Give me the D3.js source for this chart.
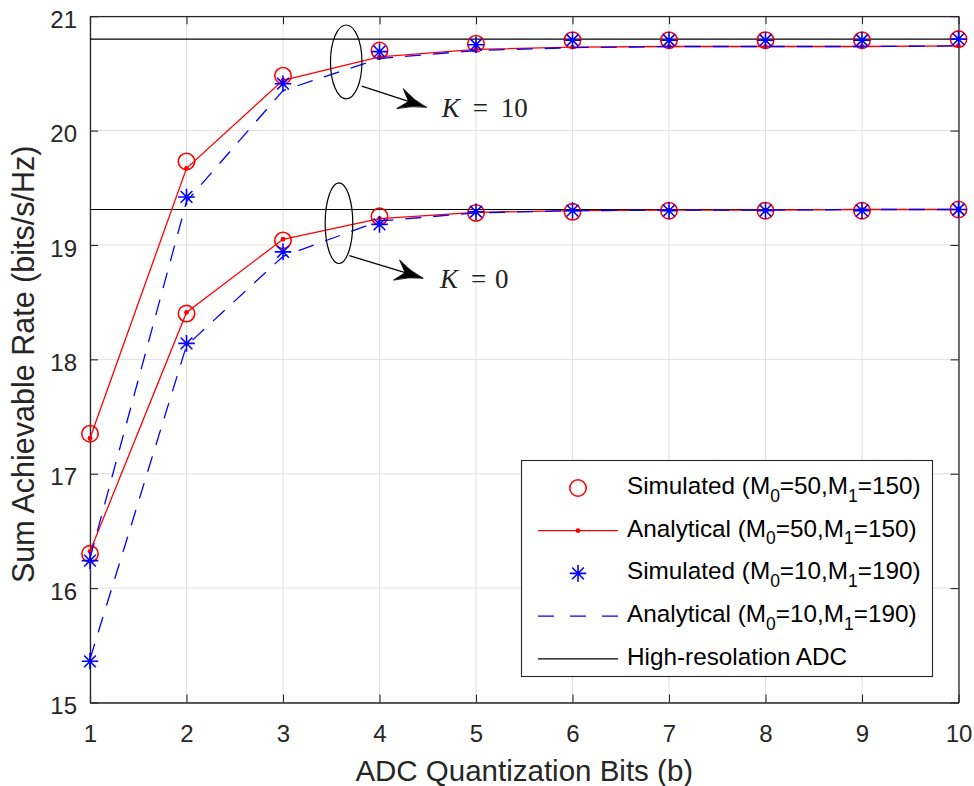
<!DOCTYPE html>
<html>
<head>
<meta charset="utf-8">
<script src="https://cdn.jsdelivr.net/npm/d3@7"></script>
<style>
  html, body { margin: 0; padding: 0; background: #fff; }
  svg { display: block; }
</style>
</head>
<body>
<svg id="chart" width="974" height="786"></svg>
<script>
// ---- data ----
const bits = [1, 2, 3, 4, 5, 6, 7, 8, 9, 10];
const xTicks = [1, 2, 3, 4, 5, 6, 7, 8, 9, 10];
const yTicks = [15, 16, 17, 18, 19, 20, 21];

// K = 10
const simA_K10 = [17.35, 19.73, 20.48, 20.70, 20.76, 20.79, 20.79, 20.79, 20.79, 20.80];
const anaA_K10 = [17.31, 19.67, 20.44, 20.645, 20.71, 20.73, 20.735, 20.735, 20.735, 20.74];
const simB_K10 = [16.24, 19.42, 20.41, 20.69, 20.75, 20.79, 20.79, 20.79, 20.79, 20.80];
const anaB_K10 = [16.26, 19.38, 20.35, 20.63, 20.70, 20.725, 20.735, 20.735, 20.735, 20.74];

// K = 0
const simA_K0 = [16.30, 18.40, 19.04, 19.25, 19.28, 19.29, 19.30, 19.30, 19.30, 19.31];
const anaA_K0 = [16.32, 18.41, 19.05, 19.23, 19.285, 19.30, 19.305, 19.305, 19.31, 19.31];
const simB_K0 = [15.36, 18.14, 18.94, 19.18, 19.29, 19.30, 19.30, 19.30, 19.30, 19.31];
const anaB_K0 = [15.38, 18.12, 18.90, 19.21, 19.28, 19.30, 19.305, 19.305, 19.31, 19.31];

// high-resolution ADC reference levels (K = 10, K = 0)
const highRes = [20.80, 19.31];

const legendLabels = [
  "Simulated (M_0=50,M_1=150)",
  "Analytical (M_0=50,M_1=150)",
  "Simulated (M_0=10,M_1=190)",
  "Analytical (M_0=10,M_1=190)",
  "High-resolation ADC"
];

// group annotations: ellipse (centre, half-axes in data units), arrow, label
const groupNames = ["10", "0"];
const ellipseCenters = [[3.655, 20.60], [3.58, 19.19]];
const ellipseRadii = [[0.163, 0.323], [0.143, 0.352]];
const arrowFrom = [[3.816, 20.389], [3.687, 18.907]];
const arrowTo = [[4.488, 20.203], [4.454, 18.709]];
const labelAt = [[4.645, 20.115], [4.627, 18.622]];

// ---- setup ----
const svg = d3.select("#chart");
const W = 974, H = 786;
const pLeft = 90, pRight = 958.5, pTop = 16.2, pBottom = 702.5;
const x = d3.scaleLinear().domain([1, 10]).range([pLeft, pRight]);
const y = d3.scaleLinear().domain([15, 21]).range([pBottom, pTop]);

const axisColor = "#262626";
const sansFont = "'Liberation Sans', Arial, Helvetica, sans-serif";
const serifFont = "'Liberation Serif', 'Times New Roman', serif";

svg.append("rect").attr("width", W).attr("height", H).attr("fill", "#fff");

// grid
const grid = svg.append("g").attr("stroke", "#e0e0e0").attr("stroke-width", 1);
grid.selectAll(".gx").data(xTicks).join("line")
  .attr("x1", d => x(d)).attr("x2", d => x(d))
  .attr("y1", pTop).attr("y2", pBottom);
grid.selectAll(".gy").data(yTicks).join("line")
  .attr("x1", pLeft).attr("x2", pRight)
  .attr("y1", d => y(d)).attr("y2", d => y(d));

// axes (ticks pointing inward on all four sides)
function styleAxis(g) {
  g.select(".domain").attr("stroke", axisColor).attr("stroke-width", 1.3);
  g.selectAll(".tick line").attr("stroke", axisColor).attr("stroke-width", 1.1);
  g.selectAll(".tick text").attr("fill", axisColor)
    .style("font-family", sansFont).style("font-size", "24px");
}

const xAxis = svg.append("g").attr("transform", `translate(0,${pBottom})`)
  .call(d3.axisBottom(x).tickValues(xTicks).tickSize(-8).tickSizeOuter(0).tickPadding(0).tickFormat(d3.format("d")))
  .call(styleAxis);
xAxis.selectAll(".tick text").attr("y", 39).attr("dy", null);

const yAxis = svg.append("g").attr("transform", `translate(${pLeft},0)`)
  .call(d3.axisLeft(y).tickValues(yTicks).tickSize(-8).tickSizeOuter(0).tickPadding(13).tickFormat(d3.format("d")))
  .call(styleAxis);
yAxis.selectAll(".tick text").attr("dy", "0.46em");

svg.append("g").attr("transform", `translate(0,${pTop})`)
  .call(d3.axisTop(x).tickValues(xTicks).tickSize(-8).tickSizeOuter(0).tickFormat(""))
  .call(styleAxis);
svg.append("g").attr("transform", `translate(${pRight},0)`)
  .call(d3.axisRight(y).tickValues(yTicks).tickSize(-8).tickSizeOuter(0).tickFormat(""))
  .call(styleAxis);

// axis titles
svg.append("text")
  .attr("x", x(5.5)).attr("y", 781)
  .attr("text-anchor", "middle")
  .attr("fill", axisColor)
  .style("font-family", sansFont).style("font-size", "29.5px")
  .text("ADC Quantization Bits (b)");

svg.append("text")
  .attr("transform", `translate(34,${(pTop + pBottom) / 2 + 5}) rotate(-90)`)
  .attr("text-anchor", "middle")
  .attr("fill", axisColor)
  .style("font-family", sansFont).style("font-size", "30.5px")
  .text("Sum Achievable Rate (bits/s/Hz)");

// ---- marks ----
const plot = svg.append("g");
const lineGen = d3.line().x((d, i) => x(bits[i])).y(d => y(d));

// high-resolution ADC limits
plot.selectAll(".hr").data(highRes).join("line")
  .attr("x1", x(1)).attr("x2", x(10))
  .attr("y1", d => y(d)).attr("y2", d => y(d))
  .attr("stroke", "#000").attr("stroke-width", 1.2);

function drawCircles(vals) {
  plot.append("g").selectAll("circle").data(vals).join("circle")
    .attr("cx", (d, i) => x(bits[i])).attr("cy", d => y(d))
    .attr("r", 8.2).attr("fill", "none").attr("stroke", "#ff0000").attr("stroke-width", 1.6);
}
function drawSolid(vals) {
  plot.append("path").datum(vals).attr("d", lineGen)
    .attr("fill", "none").attr("stroke", "#ff0000").attr("stroke-width", 1.3);
  plot.append("g").selectAll("circle").data(vals).join("circle")
    .attr("cx", (d, i) => x(bits[i])).attr("cy", d => y(d))
    .attr("r", 2.4).attr("fill", "#ff0000");
}
function starPath(cx, cy, s) {
  const a = s * 0.7071;
  return `M${cx - s},${cy}L${cx + s},${cy}M${cx},${cy - s}L${cx},${cy + s}` +
         `M${cx - a},${cy - a}L${cx + a},${cy + a}M${cx - a},${cy + a}L${cx + a},${cy - a}`;
}
function drawStars(vals) {
  plot.append("g").selectAll("path").data(vals).join("path")
    .attr("d", (d, i) => starPath(x(bits[i]), y(d), 8.3))
    .attr("fill", "none").attr("stroke", "#0000ff").attr("stroke-width", 1.6);
}
function drawDashed(vals) {
  plot.append("path").datum(vals).attr("d", lineGen)
    .attr("fill", "none").attr("stroke", "#0000ff").attr("stroke-width", 1.3)
    .attr("stroke-dasharray", "16,12");
}

[simA_K10, simA_K0].forEach(drawCircles);
[anaA_K10, anaA_K0].forEach(drawSolid);
[simB_K10, simB_K0].forEach(drawStars);
[anaB_K10, anaB_K0].forEach(drawDashed);

// ---- group annotations ----
const ann = svg.append("g");
groupNames.forEach((name, i) => {
  const [ecx, ecy] = ellipseCenters[i];
  const [erx, ery] = ellipseRadii[i];
  ann.append("ellipse")
    .attr("cx", x(ecx)).attr("cy", y(ecy))
    .attr("rx", x(ecx + erx) - x(ecx)).attr("ry", y(ecy - ery) - y(ecy))
    .attr("fill", "none").attr("stroke", "#000").attr("stroke-width", 1.2);

  const x0 = x(arrowFrom[i][0]), y0 = y(arrowFrom[i][1]);
  const x1 = x(arrowTo[i][0]), y1 = y(arrowTo[i][1]);
  const len = Math.hypot(x1 - x0, y1 - y0);
  const ux = (x1 - x0) / len, uy = (y1 - y0) / len;
  const nx = -uy, ny = ux;
  const L = 28, Wd = 10.5, notch = 19;
  const bx = x1 - L * ux, by = y1 - L * uy;
  const mx = x1 - notch * ux, my = y1 - notch * uy;
  ann.append("line")
    .attr("x1", x0).attr("y1", y0).attr("x2", mx).attr("y2", my)
    .attr("stroke", "#000").attr("stroke-width", 1.2);
  const p1x = bx + Wd * nx, p1y = by + Wd * ny;
  const p2x = bx - Wd * nx, p2y = by - Wd * ny;
  const c1x = x1 - 14 * ux + 2.5 * nx, c1y = y1 - 14 * uy + 2.5 * ny;
  const c2x = x1 - 14 * ux - 2.5 * nx, c2y = y1 - 14 * uy - 2.5 * ny;
  ann.append("path")
    .attr("d", `M${x1},${y1}Q${c1x},${c1y} ${p1x},${p1y}L${mx},${my}L${p2x},${p2y}Q${c2x},${c2y} ${x1},${y1}Z`)
    .attr("fill", "#000").attr("stroke", "#000").attr("stroke-width", 0.8).attr("stroke-linejoin", "round");

  const lx = x(labelAt[i][0]), ly = y(labelAt[i][1]);
  const t = ann.append("text").attr("x", lx).attr("y", ly)
    .attr("fill", "#222").style("font-family", serifFont).style("font-size", "27px");
  t.append("tspan").style("font-style", "italic").text("K");
  t.append("tspan").attr("x", lx + 31).attr("textLength", 19).text("=");
  t.append("tspan").attr("x", lx + (name.length > 1 ? 59 : 55)).text(name);
});

// ---- legend ----
const lg = svg.append("g");
lg.append("rect").attr("x", 521.5).attr("y", 460.5).attr("width", 411).attr("height", 216)
  .attr("fill", "#fff").attr("stroke", axisColor).attr("stroke-width", 1.1);

const rowY = i => 488 + i * 42.7;
const sx0 = 538, sx1 = 618, smid = 578;

// row 0: circle
lg.append("circle").attr("cx", smid).attr("cy", rowY(0)).attr("r", 8.2)
  .attr("fill", "none").attr("stroke", "#ff0000").attr("stroke-width", 1.6);
// row 1: solid red with dot
lg.append("line").attr("x1", sx0).attr("x2", sx1).attr("y1", rowY(1)).attr("y2", rowY(1))
  .attr("stroke", "#ff0000").attr("stroke-width", 1.3);
lg.append("circle").attr("cx", smid).attr("cy", rowY(1)).attr("r", 2.4).attr("fill", "#ff0000");
// row 2: star
lg.append("path").attr("d", starPath(smid, rowY(2), 8.3))
  .attr("fill", "none").attr("stroke", "#0000ff").attr("stroke-width", 1.6);
// row 3: dashed blue
lg.append("line").attr("x1", sx0).attr("x2", sx1).attr("y1", rowY(3)).attr("y2", rowY(3))
  .attr("stroke", "#0000ff").attr("stroke-width", 1.3).attr("stroke-dasharray", "16,16");
// row 4: black
lg.append("line").attr("x1", sx0).attr("x2", sx1).attr("y1", rowY(4)).attr("y2", rowY(4))
  .attr("stroke", "#000").attr("stroke-width", 1.2);

legendLabels.forEach((label, i) => {
  const t = lg.append("text").attr("x", 627).attr("y", rowY(i) + 6)
    .attr("fill", "#000").style("font-family", sansFont).style("font-size", "24.3px");
  const parts = label.split(/_(\d)/);
  parts.forEach((p, k) => {
    if (k % 2 === 1) {
      t.append("tspan").attr("dy", 7.5).style("font-size", "17.5px").text(p);
    } else if (p.length) {
      const s = t.append("tspan").text(p);
      if (k > 0) s.attr("dy", -7.5);
    }
  });
});
</script>
</body>
</html>
